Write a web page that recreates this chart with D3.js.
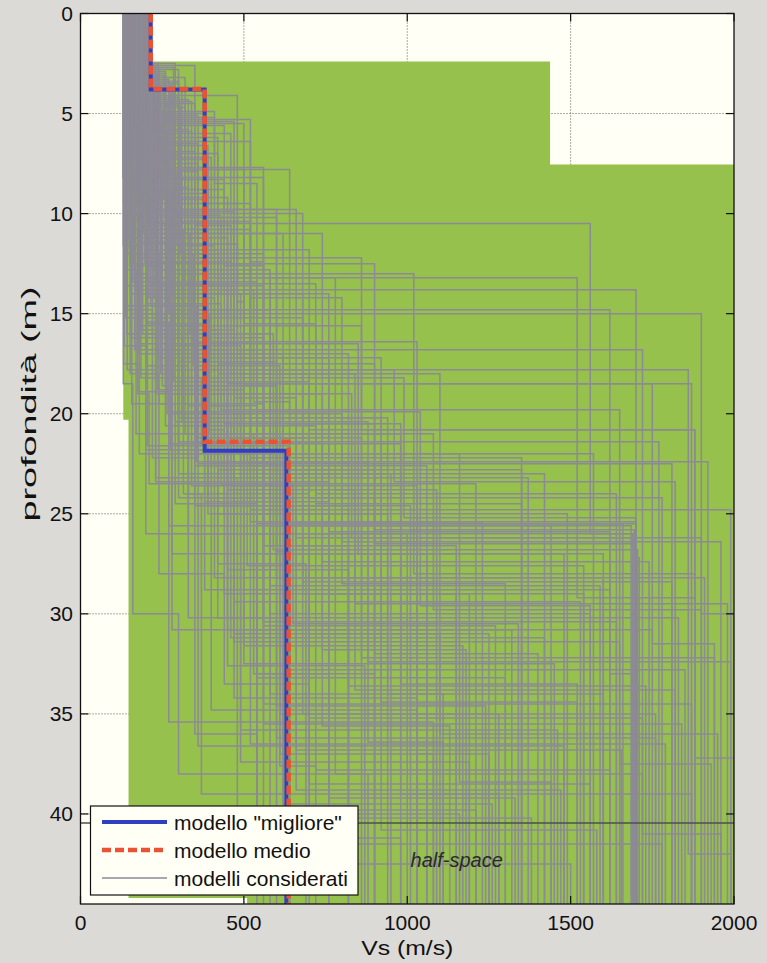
<!DOCTYPE html>
<html>
<head>
<meta charset="utf-8">
<script src="https://cdn.jsdelivr.net/npm/d3@7"></script>
<style>
  html, body { margin: 0; padding: 0; background: #dcdad6; }
  svg { display: block; }
  text { font-family: "Liberation Sans", Arial, sans-serif; }
</style>
</head>
<body>
<svg id="chart" width="767" height="963"></svg>
<script>
// ---- Axis ticks ----
const xTicks = [0, 500, 1000, 1500, 2000];
const yTicks = [0, 5, 10, 15, 20, 25, 30, 35, 40];

// ---- Parameter search space (Vs m/s, depth m) ----
const spaceVs    = [131, 1437, 1437, 2000, 2000, 510, 510, 147, 147, 131];
const spaceDepth = [2.4, 2.4, 7.55, 7.55, 44.5, 44.5, 44.2, 44.2, 20.3, 20.3];

// ---- Considered models: 3 layers over a half-space ----
const modelVs1 = [
  132,136,140,144,148,152,156,160,165,170, 175,180,186,192,198,204,210,214,134,138,
  142,146,150,154,158,162,167,172,177,182, 188,194,200,206,212,131,137,143,149,155,
  161,168,174,181,187,193,199,205,211,133, 139,145,151,157,163,169,176,183,189,196,
  202,208,135,141,147,153,159,166,171,178, 184,190,197,203,209,213,132,139,146,152,
  130,133,137,141,145,149,153,157,161,165, 169,173,177,181,185,189,193,197,201,205,
  209,213,131,135,139,143,147,151,155,159, 164,168,172,176,180,184,188,192,196,200,
  204,208,212,134,142,150,158,166,174,186, 136,144,152,160,168,178,190,202,138,148,
  156,164,172,182,194,206,142,154,166,176];
const modelZ1 = [
  17.5,3.0,5.2,12.0,2.6,7.0,15.0,4.5,9.5,3.5, 19.0,6.0,2.8,11.0,5.5,8.5,3.2,13.5,10.0,4.0,
  16.0,7.2,2.5,14.0,6.5,12.5,4.8,9.0,17.0,3.8, 7.8,5.8,15.5,2.7,10.5,18.5,6.8,3.3,11.5,8.0,
  4.2,13.0,5.0,16.5,2.9,9.8,6.2,14.5,4.4,12.8, 3.6,8.8,5.4,19.5,7.5,2.6,10.2,4.6,15.8,6.6,
  3.1,11.8,5.9,14.8,3.9,9.2,4.9,16.8,7.1,2.5, 12.2,5.1,8.3,3.4,10.8,6.4,9.6,13.6,2.9,18.0,
  8.2,4.3,15.2,6.1,11.2,3.4,16.2,5.6,9.4,2.8, 13.8,7.4,4.1,10.6,18.2,3.0,6.9,12.4,4.7,8.9,
  14.2,5.3,11.6,3.7,7.9,17.8,5.7,9.9,2.6,13.2, 6.3,10.1,4.0,15.6,7.7,3.5,11.4,5.2,8.7,14.0,
  2.9,9.3,6.7,16.6,4.5,12.6,7.3,3.3,10.4,5.9, 5.0,9.0,3.6,13.4,6.8,11.0,4.4,8.0,14.6,7.6,
  2.7,10.8,5.6,16.0,3.9,12.0,6.0,9.6,4.6,15.0];
const modelVs2 = [
  180,260,300,240,225,420,330,350,520,280, 210,460,240,380,500,300,320,450,190,230,
  270,400,290,230,360,560,250,270,300,310, 640,330,390,220,430,160,270,235,480,250,
  300,200,380,350,260,600,420,280,340,170, 245,310,470,290,360,228,500,275,420,390,
  255,700,265,220,285,340,410,450,300,238, 520,360,440,300,380,520,200,260,232,240,
  215,330,250,220,400,270,310,440,230,300, 530,260,480,290,370,240,350,460,320,280,
  410,520,180,290,360,230,250,470,350,300, 230,430,260,340,560,300,260,410,330,490,
  220,380,290,200,320,250,390,270,450,340, 215,245,275,310,205,335,265,295,355,225,
  285,315,245,375,225,345,265,205,305,395];
const modelZ2 = [
  22.0,11.0,16.5,19.5,9.0,18.0,24.0,10.5,17.8,14.0, 23.5,12.5,8.2,20.0,15.5,13.0,21.0,18.5,16.0,12.0,
  21.5,17.0,10.0,19.0,22.5,18.0,8.8,15.0,22.0,13.5, 20.5,11.5,25.0,16.0,19.8,30.0,14.5,18.8,16.8,12.8,
  20.0,26.0,9.5,21.2,7.8,23.0,17.5,27.0,10.8,21.0, 15.2,12.2,19.2,24.5,14.8,11.2,18.2,21.8,22.8,13.2,
  9.2,20.8,16.2,22.2,12.0,19.0,8.5,23.8,10.2,17.2, 21.0,15.8,13.8,24.2,18.4,14.2,17.6,20.6,13.6,28.0,
  14.6,19.6,18.6,10.4,22.4,8.0,20.4,12.6,23.4,17.4, 19.4,11.8,14.4,16.6,21.6,9.8,24.6,18.0,13.4,19.9,
  22.6,16.4,18.9,13.0,21.4,23.2,15.6,17.2,10.6,20.2, 16.8,14.0,18.6,23.6,12.4,21.4,17.0,13.2,18.2,22.0,
  12.8,16.0,20.4,21.8,11.0,17.8,19.6,14.8,21.2,16.4, 12.4,18.0,15.0,19.0,21.6,16.0,20.0,11.6,22.4,14.2,
  18.4,24.0,13.6,20.8,10.0,17.6,19.0,15.4,12.0,21.0];
const modelVs3 = [
  470,620,850,560,380,1100,700,1560,1860,760, 650,900,560,540,720,1020,610,1750,420,560,
  980,620,680,830,640,840,440,1900,520,720, 980,480,940,590,1650,300,430,500,1720,580,
  800,560,480,700,500,780,900,620,520,400, 680,860,660,540,1620,450,990,620,900,780,
  450,1880,560,350,380,740,540,840,600,920, 1080,470,1700,660,700,800,330,720,470,440,
  390,470,600,520,880,310,460,560,760,600, 640,420,500,490,560,660,820,700,540,1040,
  610,440,270,580,740,480,860,760,460,920, 560,680,600,700,520,600,820,1520,500,1160,
  380,580,880,510,740,960,540,580,660,1030, 330,280,390,450,640,360,520,410,580,300,
  470,370,560,440,350,610,490,270,420,530];
const modelZ3 = [
  31.0,25.5,27.0,34.5,21.0,36.0,38.5,26.0,42.0,29.0, 30.5,25.8,22.5,33.0,24.0,28.0,37.0,31.5,27.5,23.0,
  33.5,25.4,35.0,26.2,40.0,29.5,20.5,30.0,36.5,24.5, 39.0,21.8,34.0,26.8,37.5,38.0,23.5,32.5,41.0,25.6,
  28.5,35.5,22.0,31.0,18.5,38.0,26.5,40.5,24.8,34.8, 29.0,20.8,36.8,42.5,33.0,27.8,25.2,39.5,32.0,23.8,
  30.8,37.2,26.0,36.0,28.8,31.8,25.5,33.8,22.8,40.8, 29.8,34.2,27.2,38.8,35.2,26.4,30.2,37.8,23.2,33.5,
  24.6,29.4,34.6,21.4,36.4,20.2,31.2,27.0,39.2,28.2, 32.8,25.0,22.4,35.8,30.4,26.6,41.5,24.2,33.2,29.6,
  37.6,25.0,35.4,21.2,27.4,39.8,32.2,25.9,23.6,34.4, 30.6,28.4,36.2,41.2,22.2,26.9,33.6,29.2,31.6,38.4,
  24.4,28.6,32.4,27.6,35.6,23.4,40.2,30.0,26.2,37.0, 26.0,30.8,24.2,32.6,27.0,36.6,25.4,28.2,34.0,23.0,
  31.4,39.0,26.6,29.0,22.6,35.0,37.4,25.6,30.2,33.0];
const modelVs4 = [
  1250,1700,1480,1870,980,1950,1560,1690,1990,1150, 1340,1695,1810,760,1640,1880,1080,1940,690,1420,
  1520,1700,1280,1690,1160,1980,900,2000,1790,1350, 1870,560,1600,1705,1930,880,1210,1450,1960,1685,
  1300,1840,1570,1100,1870,1720,1700,640,1990,1030, 1190,1880,1655,1500,1690,820,1700,1260,1400,1090,
  1750,2000,1695,540,1620,1180,1660,1820,1350,1580, 1900,1030,1710,1470,1720,1960,600,1620,1370,700,
  1010,1530,1240,1770,1110,940,1420,1060,1330,1600, 1850,580,1920,1460,1640,1150,1780,900,1300,1560,
  720,1490,1080,860,1740,1210,1940,1620,1030,1520, 1270,1810,1760,980,1350,640,1730,1880,1170,1440,
  760,1590,1990,1540,1130,1820,1380,1560,1900,1250, 1000,1320,1780,870,1600,1480,1230,1910,1110,950,
  1650,1280,820,1540,1060,1760,1190,1440,1830,900];

// ---- Best ("migliore") and mean ("medio") models ----
const bestVs     = [215, 380, 630];
const bestDepth  = [3.8, 21.85];
const meanVs     = [215, 380, 637];
const meanDepth  = [3.77, 21.4];

// Depth of the half-space interface
const halfSpaceDepth = 40.45;

const depthMax = 44.5;
const vsMax = 2000;

// ---- Layout ----
const svg = d3.select("#chart");
const plot = { left: 80.5, right: 734, top: 13.5, bottom: 904 };

const x = d3.scaleLinear().domain([0, vsMax]).range([plot.left, plot.right]);
const y = d3.scaleLinear().domain([0, depthMax]).range([plot.top, plot.bottom]);

svg.append("defs").append("clipPath").attr("id", "plotClip")
  .append("rect")
  .attr("x", plot.left).attr("y", plot.top)
  .attr("width", plot.right - plot.left).attr("height", plot.bottom - plot.top);

// Axes background
svg.append("rect")
  .attr("x", plot.left).attr("y", plot.top)
  .attr("width", plot.right - plot.left).attr("height", plot.bottom - plot.top)
  .attr("fill", "#fffff6");

// Dotted grid
const grid = svg.append("g").attr("stroke", "#222").attr("stroke-width", 1)
  .attr("stroke-dasharray", "1,2").attr("opacity", 0.75);
grid.selectAll("line.gx").data(xTicks.slice(1, -1)).join("line")
  .attr("x1", d => x(d)).attr("x2", d => x(d))
  .attr("y1", plot.top).attr("y2", plot.bottom);
grid.selectAll("line.gy").data(yTicks.slice(1)).join("line")
  .attr("x1", plot.left).attr("x2", plot.right)
  .attr("y1", d => y(d)).attr("y2", d => y(d));

const inner = svg.append("g").attr("clip-path", "url(#plotClip)");

// Search space area
const spacePts = spaceVs.map((v, i) => [x(v), y(spaceDepth[i])]);
inner.append("path")
  .attr("d", d3.line()(spacePts) + "Z")
  .attr("fill", "#96c14c");

// Step profile builder
function profilePoints(vsList, depthList) {
  const pts = [];
  let top = 0;
  vsList.forEach((v, i) => {
    const bottom = i < depthList.length ? depthList[i] : depthMax;
    pts.push([v, top], [v, bottom]);
    top = bottom;
  });
  return pts;
}
const stepLine = d3.line().x(d => x(d[0])).y(d => y(d[1]));

const models = modelVs1.map((v, i) => ({
  vs: [v, modelVs2[i], modelVs3[i], modelVs4[i]],
  depth: [modelZ1[i], modelZ2[i], modelZ3[i]]
}));

inner.append("g").selectAll("path").data(models).join("path")
  .attr("d", m => stepLine(profilePoints(m.vs, m.depth)))
  .attr("fill", "none")
  .attr("stroke", "#8c8a94")
  .attr("stroke-width", 1.5);

// Half-space interface
inner.append("line")
  .attr("x1", x(0)).attr("x2", x(vsMax))
  .attr("y1", y(halfSpaceDepth)).attr("y2", y(halfSpaceDepth))
  .attr("stroke", "#4d5048").attr("stroke-width", 1.6);

// Best model
inner.append("path")
  .attr("d", stepLine(profilePoints(bestVs, bestDepth)))
  .attr("fill", "none").attr("stroke", "#2f3fc0").attr("stroke-width", 4);

// Mean model
inner.append("path")
  .attr("d", stepLine(profilePoints(meanVs, meanDepth)))
  .attr("fill", "none").attr("stroke", "#ea5234").attr("stroke-width", 4.5)
  .attr("stroke-dasharray", "9,4");

// "half-space" label
svg.append("text")
  .attr("x", x(1010)).attr("y", 867)
  .attr("font-size", 20).attr("font-style", "italic").attr("fill", "#2a2a2a")
  .text("half-space");

// Axes box
svg.append("rect")
  .attr("x", plot.left).attr("y", plot.top)
  .attr("width", plot.right - plot.left).attr("height", plot.bottom - plot.top)
  .attr("fill", "none").attr("stroke", "#111").attr("stroke-width", 1.3);

// Tick marks (inward, on all four sides)
const tickLen = 8;
const ticks = svg.append("g").attr("stroke", "#111").attr("stroke-width", 1.2);
xTicks.forEach(t => {
  ticks.append("line").attr("x1", x(t)).attr("x2", x(t)).attr("y1", plot.bottom).attr("y2", plot.bottom - tickLen);
  ticks.append("line").attr("x1", x(t)).attr("x2", x(t)).attr("y1", plot.top).attr("y2", plot.top + tickLen);
});
yTicks.forEach(t => {
  ticks.append("line").attr("x1", plot.left).attr("x2", plot.left + tickLen).attr("y1", y(t)).attr("y2", y(t));
  ticks.append("line").attr("x1", plot.right).attr("x2", plot.right - tickLen).attr("y1", y(t)).attr("y2", y(t));
});

// Tick labels
svg.append("g").selectAll("text").data(xTicks).join("text")
  .attr("x", d => x(d)).attr("y", 930)
  .attr("text-anchor", "middle").attr("font-size", 21).attr("fill", "#111")
  .text(d => d);
svg.append("g").selectAll("text").data(yTicks).join("text")
  .attr("x", 73).attr("y", d => y(d) + 7.5)
  .attr("text-anchor", "end").attr("font-size", 21).attr("fill", "#111")
  .text(d => d);

// Axis titles
svg.append("text")
  .attr("transform", `translate(${x(1000)}, 955) scale(1.18, 1)`)
  .attr("text-anchor", "middle").attr("font-size", 21).attr("fill", "#111")
  .text("Vs (m/s)");
svg.append("text")
  .attr("transform", "translate(36, 404) rotate(-90) scale(1.8, 1)")
  .attr("text-anchor", "middle").attr("font-size", 21).attr("fill", "#111")
  .text("profondità (m)");

// Legend
const legend = svg.append("g");
legend.append("rect")
  .attr("x", 90.5).attr("y", 806).attr("width", 267.5).attr("height", 89)
  .attr("fill", "#fffff6").attr("stroke", "#111").attr("stroke-width", 1.2);
const legendItems = [
  { label: "modello \"migliore\"", color: "#2f3fc0", width: 4, dash: null, ly: 822 },
  { label: "modello medio", color: "#ea5234", width: 4.5, dash: "9,4", ly: 850 },
  { label: "modelli considerati", color: "#8c8a94", width: 1.5, dash: null, ly: 878 }
];
legendItems.forEach(it => {
  legend.append("line")
    .attr("x1", 102).attr("x2", 167).attr("y1", it.ly).attr("y2", it.ly)
    .attr("stroke", it.color).attr("stroke-width", it.width)
    .attr("stroke-dasharray", it.dash);
  legend.append("text")
    .attr("x", 174).attr("y", it.ly + 8)
    .attr("font-size", 21).attr("fill", "#111")
    .text(it.label);
});
</script>
</body>
</html>
